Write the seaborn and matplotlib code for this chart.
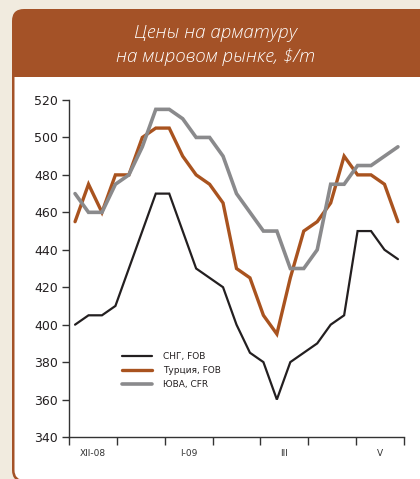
import matplotlib
matplotlib.use("Agg")
import matplotlib.pyplot as plt
from matplotlib.patches import FancyBboxPatch, Rectangle
import numpy as np
import pandas as pd
import seaborn as sns

# weekly prices, $/t
weeks = np.arange(25)
cis_fob = [400, 405, 405, 410, 430, 450, 470, 470, 450, 430, 425, 420, 400,
           385, 380, 360, 380, 385, 390, 400, 405, 450, 450, 440, 435]
turkey_fob = [455, 475, 460, 480, 480, 500, 505, 505, 490, 480, 475, 465, 430,
              425, 405, 395, 425, 450, 455, 465, 490, 480, 480, 475, 455]
sea_cfr = [470, 460, 460, 475, 480, 495, 515, 515, 510, 500, 500, 490, 470,
           460, 450, 450, 430, 430, 440, 475, 475, 485, 485, 490, 495]

series_names = ["СНГ, FOB", "Турция, FOB", "ЮВА, CFR"]
month_labels = ["XII-08", "I-09", "III", "V"]
title = "Цены на арматуру\nна мировом рынке, $/т"

BROWN = "#a45227"
BEIGE = "#f1ebdf"
colors = ["#231f20", "#a9531f", "#8a8a8c"]
widths = [1.6, 2.4, 2.6]

df = pd.DataFrame({"week": weeks, series_names[0]: cis_fob,
                   series_names[1]: turkey_fob, series_names[2]: sea_cfr})

sns.set_style("ticks")
plt.rcParams["font.family"] = ["DejaVu Sans"]

fig = plt.figure(figsize=(4.2, 4.79), dpi=100, facecolor=BEIGE)

# frame: brown rounded box, white body, brown header (behind the axes)
fig.add_artist(FancyBboxPatch((12, -3), 420, 473, boxstyle="round,pad=0,rounding_size=12",
                              transform=None, facecolor=BROWN, edgecolor="none", zorder=-3))
fig.add_artist(FancyBboxPatch((14.5, -1), 420, 425, boxstyle="round,pad=0,rounding_size=10",
                              transform=None, facecolor="white", edgecolor="none", zorder=-2))
fig.add_artist(Rectangle((12, 402), 420, 55, transform=None,
                         facecolor=BROWN, edgecolor="none", zorder=-1))
fig.text(216 / 420, 1 - 45 / 479, title, ha="center", va="center", color="white",
         fontsize=13.5, style="italic", fontweight="light", family=["Open Sans", "DejaVu Sans"],
         linespacing=1.45)

ax = fig.add_axes([69 / 420, 42 / 479, 335 / 420, 337 / 479])
ax.patch.set_alpha(0)

for name, c, lw in zip(series_names, colors, widths):
    sns.lineplot(data=df, x="week", y=name, ax=ax, color=c, linewidth=lw,
                 label=name, solid_joinstyle="miter")

ax.set_ylim(340, 520)
ax.set_yticks(np.arange(340, 521, 20))
edges = np.linspace(-0.45, 24.45, 8)
ax.set_xlim(edges[0], edges[-1])
ax.set_xticks(edges)
ax.set_xticklabels([])
mids = (edges[:-1] + edges[1:]) / 2
ax.set_xticks(mids[::2], minor=True)
ax.set_xticklabels(month_labels, minor=True)
ax.tick_params(axis="x", which="major", length=6, width=1, color="#333333", direction="out")
ax.tick_params(axis="x", which="minor", length=0, pad=9, labelsize=6.5, labelcolor="#333333")
ax.tick_params(axis="y", length=5, width=1, color="#333333", labelsize=9,
               labelcolor="#231f20", pad=3)
ax.set_xlabel("")
ax.set_ylabel("")
for s in ["top", "right"]:
    ax.spines[s].set_visible(False)
for s in ["left", "bottom"]:
    ax.spines[s].set_color("#333333")
    ax.spines[s].set_linewidth(1)

ax.legend(loc="upper left", bbox_to_anchor=(0.158, 0.252), frameon=False, fontsize=6.5,
          handlelength=3.3, handletextpad=1.3, labelspacing=0.55, borderpad=0,
          borderaxespad=0, labelcolor="#231f20")

fig.savefig("out.png", dpi=100, facecolor=BEIGE)
